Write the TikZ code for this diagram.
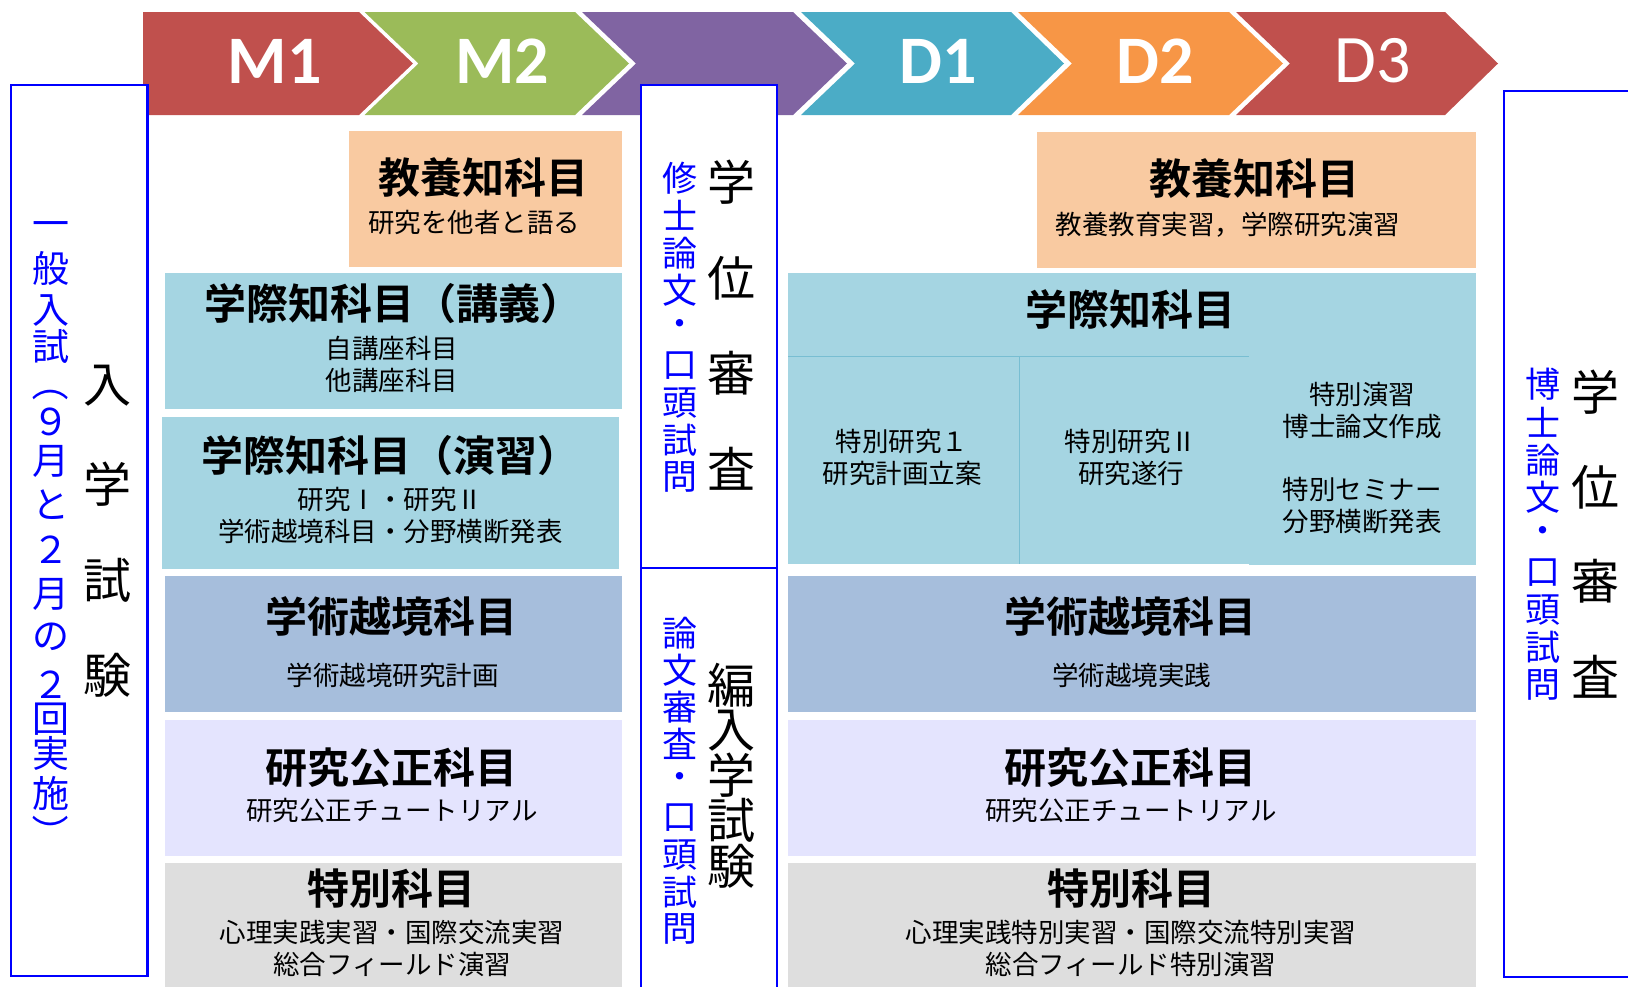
\documentclass[tikz,border=0pt]{standalone}
\usepackage{fontspec}
\newfontfamily\jpfont[BoldFont={Noto Sans CJK JP Bold}]{Noto Sans CJK JP}
\newfontfamily\latfont{Carlito}
\definecolor{mone}{HTML}{C0504D}
\definecolor{mtwo}{HTML}{9BBB59}
\definecolor{mpur}{HTML}{8064A2}
\definecolor{done}{HTML}{4BACC6}
\definecolor{dtwo}{HTML}{F79646}
\definecolor{dthree}{HTML}{C0504D}
\definecolor{peach}{RGB}{249,202,161}
\definecolor{lblue}{RGB}{165,213,226}
\definecolor{sblue}{RGB}{166,190,220}
\definecolor{lav}{RGB}{228,228,254}
\definecolor{gry}{RGB}{222,222,222}
\definecolor{divc}{RGB}{120,190,210}
\definecolor{blueline}{RGB}{0,0,255}
\begin{document}
\begin{tikzpicture}[x=0.5pt,y=-0.5pt,
  hd/.style={inner sep=0, font={\jpfont\bfseries\fontsize{21}{25}\selectfont}},
  sub/.style={inner sep=0, align=center, font={\jpfont\fontsize{13.25}{16}\selectfont}},
  vbig/.style={inner sep=0, font={\jpfont\fontsize{24}{24}\selectfont}},
  vblue/.style={inner sep=0, text=blueline, font={\jpfont\fontsize{17.5}{17.5}\selectfont}},
  vbluel/.style={inner sep=0, text=blueline, font={\jpfont\fontsize{18.5}{18.5}\selectfont}},
  chev/.style={inner sep=0, text=white, font={\latfont\bfseries\fontsize{34}{34}\selectfont}},
  chevr/.style={inner sep=0, text=white, font={\latfont\fontsize{34}{34}\selectfont}},
  frame/.style={draw=blueline, line width=1.2pt, fill=white},
  divline/.style={draw=divc, line width=0.5pt}
]
\useasboundingbox (0,0) rectangle (1628,986);
\clip (0,0) rectangle (1628,986);

% chevrons
\fill[mone] (143,12) -- (359,12) -- (413,63.5) -- (359,115) -- (143,115) -- cycle;
\fill[mtwo] (364.5,12) -- (575,12) -- (629,63.5) -- (575,115) -- (364.5,115) -- (418.5,63.5) -- cycle;
\fill[mpur] (582,12) -- (793,12) -- (847,63.5) -- (793,115) -- (582,115) -- (636,63.5) -- cycle;
\fill[done] (801,12) -- (1011,12) -- (1064,63.5) -- (1011,115) -- (801,115) -- (855,63.5) -- cycle;
\fill[dtwo] (1018,12) -- (1229,12) -- (1283,63.5) -- (1229,115) -- (1018,115) -- (1072,63.5) -- cycle;
\fill[dthree] (1236,12) -- (1445,12) -- (1498,63.5) -- (1445,115) -- (1236,115) -- (1290,63.5) -- cycle;
\node[chev] (lm1) at (274.6,61) {M1};
\node[chev] (lm2) at (502,61) {M2};
\node[chev] (ld1) at (938.6,61) {D1};
\node[chev] (ld2) at (1155,61) {D2};
\node[chevr] (ld3) at (1373,61) {D3};

% frames
\path[frame] (11,85) rectangle (147.5,976);
\path[frame] (641,85) rectangle (777,1000);
\draw[blueline, line width=1.2pt] (641,568) -- (777,568);
\path[frame] (1504,91) rectangle (1680,977);

% left column blocks
\fill[peach] (349,131) rectangle (622,267);
\fill[lblue] (165,273) rectangle (622,409);
\fill[lblue] (162,417) rectangle (619,569);
\fill[sblue] (165,576) rectangle (622,712);
\fill[lav] (165,720) rectangle (622,856);
\fill[gry] (165,863) rectangle (622,1000);

% right column blocks
\fill[peach] (1037,132) rectangle (1476,268);
\fill[lblue] (788,273) rectangle (1249,564);
\fill[lblue] (1249,273) rectangle (1476,565);
\draw[divline] (788,356) -- (1249,356);
\draw[divline] (1019,356) -- (1019,564);
\fill[sblue] (788,576) rectangle (1476,712);
\fill[lav] (788,720) rectangle (1476,856);
\fill[gry] (788,863) rectangle (1476,1000);

% left column texts
\node[hd] (k1h) at (483.5,178) {教養知科目};
\node[sub] (k1s) at (474,222) {研究を他者と語る};
\node[hd] (g1h) at (393.5,304) {学際知科目（講義）};
\node[sub] (g1s) at (392,364) {自講座科目\\他講座科目};
\node[hd] (g2h) at (390.5,456) {学際知科目（演習）};
\node[sub] (g2s) at (390.5,515.5) {研究Ⅰ・研究Ⅱ\\学術越境科目・分野横断発表};
\node[hd] (e1h) at (391,616) {学術越境科目};
\node[sub] (e1s) at (392.5,675.5) {学術越境研究計画};
\node[hd] (c1h) at (391,767.5) {研究公正科目};
\node[sub] (c1s) at (392,810) {研究公正チュートリアル};
\node[hd] (t1h) at (391,889) {特別科目};
\node[sub] (t1s) at (392,948) {心理実践実習・国際交流実習\\総合フィールド演習};

% right column texts
\node[hd] (k2h) at (1254,179) {教養知科目};
\node[sub] (k2s) at (1228,224.5) {教養教育実習，学際研究演習};
\node[hd] (g3h) at (1130.5,309) {学際知科目};
\node[sub] (r1) at (902,457) {特別研究１\\研究計画立案};
\node[sub] (r2) at (1131,457) {特別研究Ⅱ\\研究遂行};
\node[sub] (r3) at (1362,410) {特別演習\\博士論文作成};
\node[sub] (r4) at (1362,506) {特別セミナー\\分野横断発表};
\node[hd] (e2h) at (1130,616) {学術越境科目};
\node[sub] (e2s) at (1131.5,675.5) {学術越境実践};
\node[hd] (c2h) at (1130,767.5) {研究公正科目};
\node[sub] (c2s) at (1131,810) {研究公正チュートリアル};
\node[hd] (t2h) at (1131,889) {特別科目};
\node[sub] (t2s) at (1131,948) {心理実践特別実習・国際交流特別実習\\総合フィールド特別演習};

% vertical texts: left frame
\foreach \c/\yy [count=\i] in {入/386,学/484,試/580,験/675}
  \node[vbig] (ln\i) at (107.5,\yy) {\c};
\foreach \c/\yy [count=\i] in {一/230,般/268.3,入/310.7,試/346.7,９/421.7,月/461.7,と/505,２/550,月/594,の/636.7,２/685,回/719,実/753.3,施/793.3}
  \node[vbluel] (lb\i) at (50.8,\yy) {\c};
\node[vbluel, rotate=-90] (lpo) at (50.8,383) {（};
\node[vbluel, rotate=-90] (lpc) at (50.8,833) {）};

% middle frame
\foreach \c [count=\i from 0] in {学,位,審,査}
  \node[vbig] (mg\i) at (731.7,182.5+95.3*\i) {\c};
\foreach \c [count=\i from 0] in {修,士,論,文,・,口,頭,試,問}
  \node[vblue] (mb\i) at (680,178.2+37.4*\i) {\c};
\foreach \c [count=\i from 0] in {編,入,学,試,験}
  \node[vbig] (mh\i) at (731.7,685+45.2*\i) {\c};
\foreach \c [count=\i from 0] in {論,文,審,査,・,口,頭,試,問}
  \node[vblue] (mc\i) at (680,633+37*\i) {\c};

% right frame
\foreach \c [count=\i from 0] in {学,位,審,査}
  \node[vbig] (rg\i) at (1595,392+94.8*\i) {\c};
\foreach \c [count=\i from 0] in {博,士,論,文,・,口,頭,試,問}
  \node[vblue] (rb\i) at (1543,384.5+37.6*\i) {\c};
\end{tikzpicture}
\end{document}
